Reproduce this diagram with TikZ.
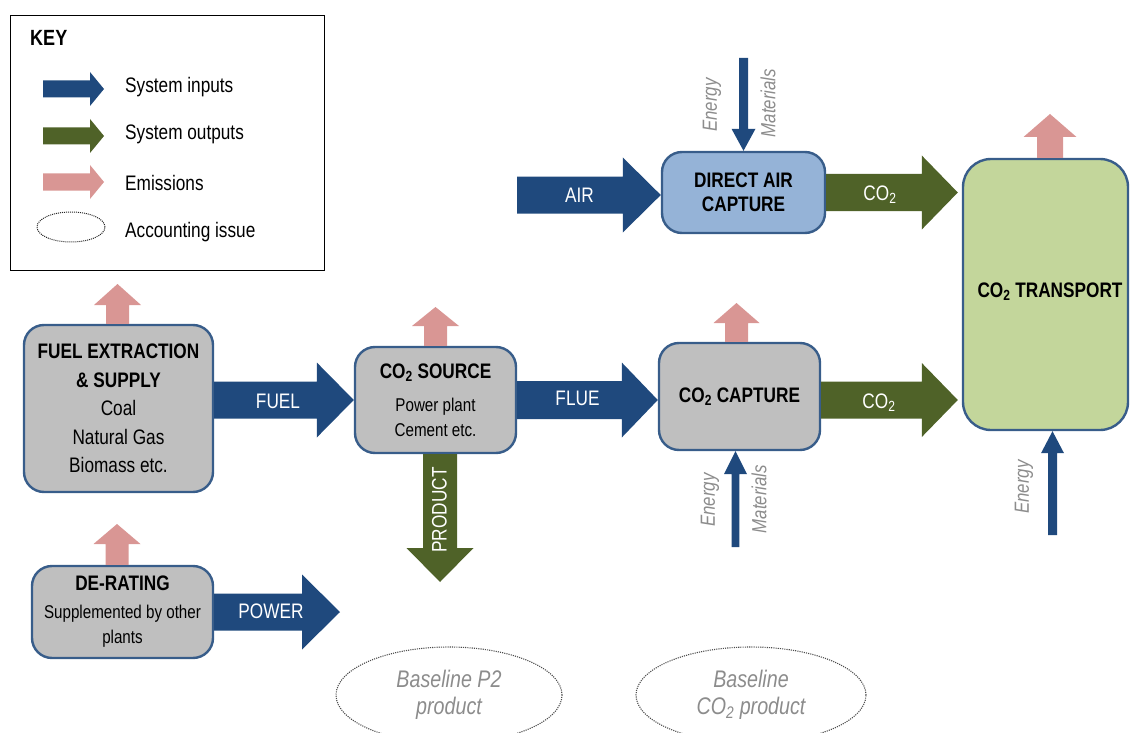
\documentclass[tikz,border=0pt]{standalone}
\usepackage{fontspec}
\setmainfont[FakeStretch=0.82]{Liberation Sans}
\usetikzlibrary{calc,shapes.geometric}

\definecolor{inblue}{HTML}{1F497D}
\definecolor{outgreen}{HTML}{4F6228}
\definecolor{emitpink}{HTML}{D99694}
\definecolor{procgray}{HTML}{BFBFBF}
\definecolor{procline}{HTML}{385D8A}
\definecolor{dacblue}{HTML}{95B3D7}
\definecolor{transgreen}{HTML}{C3D69B}
\definecolor{notegray}{HTML}{8C8C8C}

\newcommand\setfs[2]{\fontsize{#1}{#2}\selectfont}

% block arrows: fill style, start, tip, shaft half-width, head half-width, head length
\newcommand\blockR[6]{\fill[#1] let \p1=(#2), \p2=(#3) in
  (\x1,\y1+#4pt) -- (\x2-#6pt,\y1+#4pt) -- (\x2-#6pt,\y1+#5pt) -- (\x2,\y1)
  -- (\x2-#6pt,\y1-#5pt) -- (\x2-#6pt,\y1-#4pt) -- (\x1,\y1-#4pt) -- cycle;}
\newcommand\blockU[6]{\fill[#1] let \p1=(#2), \p2=(#3) in
  (\x1-#4pt,\y1) -- (\x1-#4pt,\y2-#6pt) -- (\x1-#5pt,\y2-#6pt) -- (\x1,\y2)
  -- (\x1+#5pt,\y2-#6pt) -- (\x1+#4pt,\y2-#6pt) -- (\x1+#4pt,\y1) -- cycle;}
\newcommand\blockD[6]{\fill[#1] let \p1=(#2), \p2=(#3) in
  (\x1-#4pt,\y1) -- (\x1-#4pt,\y2+#6pt) -- (\x1-#5pt,\y2+#6pt) -- (\x1,\y2)
  -- (\x1+#5pt,\y2+#6pt) -- (\x1+#4pt,\y2+#6pt) -- (\x1+#4pt,\y1) -- cycle;}

\begin{document}
\begin{tikzpicture}[x=1pt,y=-1pt,
  proc/.style={draw=procline, line width=2.4pt, rounded corners=20pt,
    fill=procgray, inner sep=0pt, align=center, text=black,
    font=\setfs{21}{25}},
  flowlabel/.style={text=white, inner sep=0pt, font=\setfs{21}{25}},
  notelabel/.style={text=notegray, inner sep=0pt, rotate=90,
    font=\setfs{20.5}{24}\itshape},
  keytext/.style={anchor=west, inner sep=0pt, font=\setfs{21}{25}},
  issue/.style={ellipse, draw=black!70, line width=1.1pt,
    dash pattern=on 1.1pt off 1.1pt, inner sep=0pt, align=center,
    text=notegray, font=\setfs{24}{27}\itshape}]

\useasboundingbox (0,0) rectangle (1130,733);

% ---------- key ----------
\node[draw=black, line width=1.2pt, minimum width=314, minimum height=255,
  anchor=north west, inner sep=0pt] (keybox) at (10,15) {};
\node[anchor=west, inner sep=0pt, font=\setfs{22}{26}\bfseries] (keytitle) at (30,38) {KEY};
\coordinate (kin1) at (43,89);   \coordinate (kin2) at (104,89);
\coordinate (kout1) at (43,136); \coordinate (kout2) at (104,136);
\coordinate (kem1) at (43,182);  \coordinate (kem2) at (104,182);
\blockR{inblue}{kin1}{kin2}{8.5}{17}{14}
\blockR{outgreen}{kout1}{kout2}{8.5}{17}{14}
\blockR{emitpink}{kem1}{kem2}{8.5}{17}{14}
\node[ellipse, draw=black!85, line width=1pt, dash pattern=on 1pt off 1pt,
  minimum width=68, minimum height=30, inner sep=0pt] (kissue) at (71,227) {};
\node[keytext] (kt1) at (125,87) {System inputs};
\node[keytext] (kt2) at (125,134) {System outputs};
\node[keytext] (kt3) at (125,183) {Emissions};
\node[keytext] (kt4) at (125,232) {Accounting issue};

% ---------- process boxes ----------
\node[proc, minimum width=189, minimum height=167, font=\setfs{21}{28.5}] (fuel) at (118.5,408.5)
  {\textbf{FUEL EXTRACTION}\\\textbf{\& SUPPLY}\\Coal\\Natural Gas\\Biomass etc.};
\node[proc, minimum width=181, minimum height=92] (derate) at (122.5,612)
  {\textbf{DE-RATING}\\[3pt]{\setfs{18.5}{25}Supplemented by other}\\{\setfs{18.5}{25}plants}};
\node[proc, minimum width=161, minimum height=106] (src) at (435.5,400)
  {\textbf{CO\textsubscript{2} SOURCE}\\[8pt]{\setfs{18.5}{25}Power plant}\\{\setfs{18.5}{25}Cement etc.}};
\node[proc, minimum width=161, minimum height=107] (cap) at (739.5,396.5)
  {\textbf{CO\textsubscript{2} CAPTURE}};
\node[proc, fill=dacblue, minimum width=163, minimum height=81, font=\setfs{21}{24}] (dac) at (743.5,192.5)
  {\textbf{DIRECT AIR}\\\textbf{CAPTURE}};
\node[proc, fill=transgreen, rounded corners=28pt, minimum width=165, minimum height=271] (trans) at (1045.5,294.5) {};
\node[inner sep=0pt, font=\setfs{21}{25}\bfseries] (translabel) at (1050,292) {CO\textsubscript{2} TRANSPORT};

% ---------- main flows ----------
\coordinate (airstart) at (517,195);
\coordinate (powerend) at (340,612);
\coordinate (productend) at (440,582);
\blockR{inblue}{airstart}{dac.west}{18.5}{37.5}{38}
\blockR{outgreen}{dac.east}{$(trans.west)+(-4,0)$}{18.5}{37}{36}
\blockR{inblue}{fuel.east |- src.west}{src.west}{18.5}{37.5}{37}
\blockR{inblue}{derate.east}{powerend}{18.5}{37.5}{38}
\blockR{inblue}{src.east}{cap.west}{19}{37.5}{36}
\blockR{outgreen}{$(cap.east)+(0,3.5)$}{$(trans.west)+(-4,0)$}{18.5}{37}{36}
\blockD{outgreen}{$(src.south)+(4.5,0)$}{productend}{17}{33.5}{34}

\node[flowlabel] (airlabel) at (579.5,195) {AIR};
\node[flowlabel] (dacco2) at (880,195) {CO\textsubscript{2}};
\node[flowlabel] (fuellabel) at (278,401) {FUEL};
\node[flowlabel] (powerlabel) at (271,611) {POWER};
\node[flowlabel] (fluelabel) at (577.5,398) {FLUE};
\node[flowlabel] (capco2) at (879,403) {CO\textsubscript{2}};
\node[flowlabel, rotate=90] (productlabel) at (439.5,510) {PRODUCT};

% ---------- emissions ----------
\coordinate (fuelemit) at (117.5,284);
\coordinate (derateemit) at (117,524);
\coordinate (srcemit) at (435.5,307);
\coordinate (capemit) at (736.5,303);
\coordinate (transemit) at (1050,114);
\blockU{emitpink}{fuelemit |- fuel.north}{fuelemit}{11.5}{23.5}{21}
\blockU{emitpink}{derateemit |- derate.north}{derateemit}{11.5}{23.5}{20}
\blockU{emitpink}{srcemit |- src.north}{srcemit}{11.5}{23.5}{19}
\blockU{emitpink}{capemit |- cap.north}{capemit}{11.5}{23}{20}
\blockU{emitpink}{transemit |- trans.north}{transemit}{13}{26.5}{23}

% ---------- energy and material inputs ----------
\coordinate (dacin) at (743.5,58);
\coordinate (capin) at (735.5,547);
\coordinate (transin) at (1052.5,535);
\blockD{inblue}{dacin}{dacin |- dac.north}{4.5}{12}{22}
\blockU{inblue}{capin}{capin |- cap.south}{3.8}{11.5}{23}
\blockU{inblue}{transin}{transin |- trans.south}{4.5}{11.5}{22}

\node[notelabel] (dacenergy) at (712,105) {Energy};
\node[notelabel] (dacmat) at (768,103) {Materials};
\node[notelabel] (capenergy) at (710,500) {Energy};
\node[notelabel] (capmat) at (759,499) {Materials};
\node[notelabel] (transenergy) at (1024,487) {Energy};

% ---------- accounting issues ----------
\node[issue, minimum width=226, minimum height=96] (p2issue) at (449,695)
  {Baseline P2\\product};
\node[issue, minimum width=230, minimum height=96] (co2issue) at (751,695)
  {Baseline\\CO\textsubscript{2} product};

\end{tikzpicture}
\end{document}
